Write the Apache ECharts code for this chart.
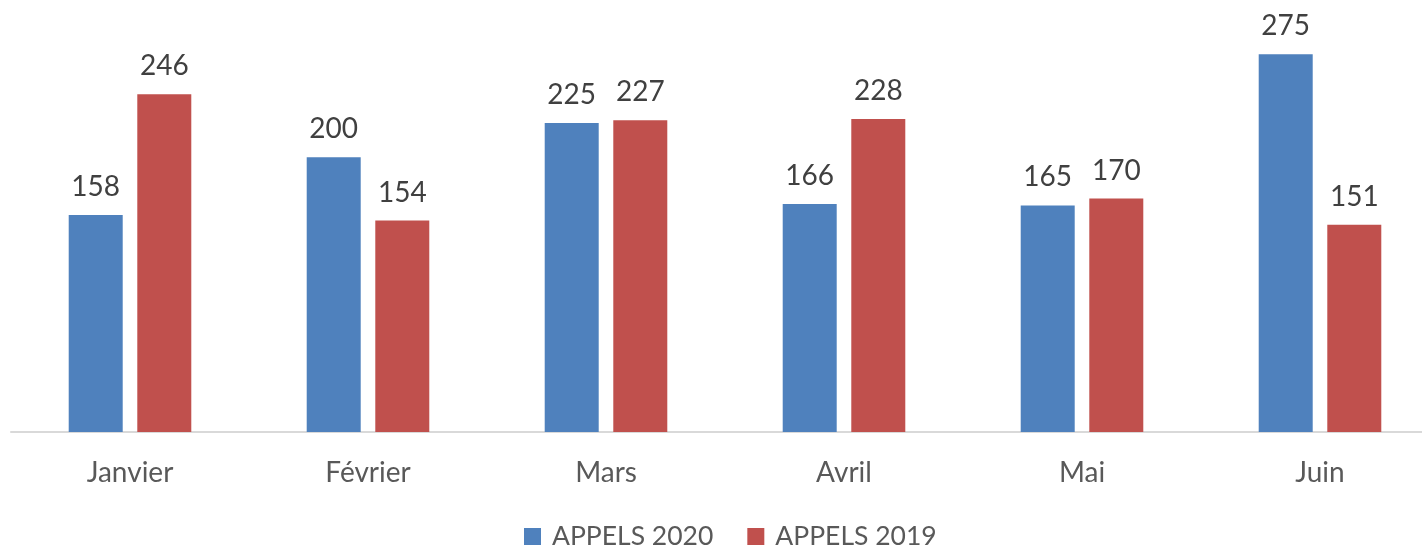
<!DOCTYPE html>
<html>
<head>
<meta charset="utf-8">
<script src="https://cdn.jsdelivr.net/npm/echarts@6/dist/echarts.min.js"></script>
<style>
  html, body { margin: 0; padding: 0; background: #fff; }
  #chart { width: 1422px; height: 548px; }
</style>
</head>
<body>
<div id="chart"></div>
<script>
// données
const months = ['Janvier', 'Février', 'Mars', 'Avril', 'Mai', 'Juin']
const appels2020 = [158, 200, 225, 166, 165, 275]
const appels2019 = [246, 154, 227, 228, 170, 151]

const chart = echarts.init(document.getElementById('chart'))

const valueLabel = {
  show: true,
  position: 'top',
  distance: 14,
  color: '#404040',
  fontFamily: 'Lato',
  fontSize: 28
}

chart.setOption({
  animation: false,
  grid: { left: 11, right: -17, top: 20, bottom: 116, outerBoundsMode: 'none', containLabel: false },
  legend: {
    left: 519,
    top: 518,
    itemWidth: 17,
    itemHeight: 17,
    itemGap: 34,
    icon: 'rect',
    textStyle: { color: '#595959', fontFamily: 'Lato', fontSize: 26.5, padding: [0, 0, 0, 6] },
    data: ['APPELS 2020', 'APPELS 2019']
  },
  xAxis: {
    type: 'category',
    data: months,
    axisLine: { lineStyle: { color: '#d9d9d9', width: 2 } },
    axisTick: { show: false },
    axisLabel: { color: '#595959', fontFamily: 'Lato', fontSize: 28, margin: 27 }
  },
  yAxis: {
    type: 'value',
    min: 0,
    max: 300,
    show: false,
    splitLine: { show: false }
  },
  series: [
    {
      name: 'APPELS 2020',
      type: 'bar',
      data: appels2020,
      barWidth: 54,
      barGap: '27%',
      itemStyle: { color: '#4f81bd' },
      label: valueLabel
    },
    {
      name: 'APPELS 2019',
      type: 'bar',
      data: appels2019,
      barWidth: 54,
      itemStyle: { color: '#c0504d' },
      label: valueLabel
    }
  ]
})
</script>
</body>
</html>
